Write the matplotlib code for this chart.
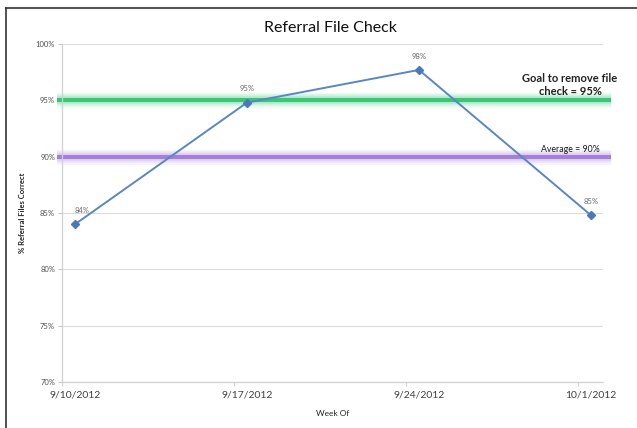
import matplotlib
matplotlib.use("Agg")
import matplotlib.pyplot as plt
from matplotlib.lines import Line2D

### Chart data ###
weeks = ["9/10/2012", "9/17/2012", "9/24/2012", "10/1/2012"]
pct_correct = [84.0, 94.8, 97.7, 84.8]
point_labels = ["84%", "95%", "98%", "85%"]
goal = 95
average = 90
y_ticks = [70, 75, 80, 85, 90, 95, 100]

plt.rcParams['font.family'] = ['Lato', 'DejaVu Sans']

fig = plt.figure(figsize=(6.37, 4.28), dpi=100)
ax = fig.add_axes([62/637, 1 - 382/428, 541/637, 338/428])

x = list(range(len(weeks)))

# glowing reference bands (goal and average)
def glow_band(y, core, glow):
    for lw, a in [(11, 0.1), (8.5, 0.15), (6, 0.25)]:
        ax.axhline(y, xmin=-0.01, xmax=1.015, color=glow, lw=lw, alpha=a,
                   clip_on=False, zorder=2, solid_capstyle="butt")
    ax.axhline(y, xmin=-0.01, xmax=1.015, color=core, lw=3,
               clip_on=False, zorder=2, solid_capstyle="butt")

glow_band(goal, "#3cc477", "#5fd595")
glow_band(average, "#a680d6", "#bb9be2")

ax.plot(x, pct_correct, color="#5b86c4", lw=1.4, marker="D", ms=4.5,
        mfc="#4a78b8", mec="#4a78b8", zorder=3)

for xi, yi, lab in zip(x, pct_correct, point_labels):
    dx = 0.04 if xi == 0 else 0
    ax.text(xi + dx, yi + 0.9, lab, ha="center", va="bottom", fontsize=5.5,
            color="#6a6a6a")

ax.set_ylim(70, 100)
ax.set_xlim(-0.0756, 3.07)
ax.set_yticks(y_ticks)
ax.set_yticklabels([f"{v}%" for v in y_ticks], fontsize=5.5, color="#505050")
ax.yaxis.grid(True, color="#dcdcdc", lw=0.8)
ax.set_axisbelow(True)

# tick marks sit a little left of the labels, like the Excel date axis
ax.set_xticks([xi - 0.0756 for xi in x], minor=True)
ax.set_xticks(x)
ax.set_xticklabels(weeks, fontsize=7.5, color="#404040")
ax.tick_params(axis="x", which="major", length=0, pad=6)
ax.tick_params(axis="x", which="minor", length=3, color="#c8c8c8")
ax.tick_params(axis="y", length=3, color="#c8c8c8", pad=2)

for s in ["top", "right"]:
    ax.spines[s].set_visible(False)
for s in ["left", "bottom"]:
    ax.spines[s].set_color("#d0d0d0")
    ax.spines[s].set_linewidth(0.9)

fig.text(330/637, 1 - 28/428, "Referral File Check", ha="center", va="center",
         fontsize=11.5, color="#111111")
ax.set_xlabel("Week Of", fontsize=6, color="#222222", labelpad=8)
ax.set_ylabel("% Referral Files Correct", fontsize=5.5, fontweight="bold",
              color="#222222", labelpad=7)

fig.text(570/637, 1 - 85/428, "Goal to remove file\ncheck = 95%", ha="center",
         va="center", fontsize=8, fontweight="bold", color="#222222",
         linespacing=1.15)
fig.text(570/637, 1 - 149/428, "Average = 90%", ha="center", va="center",
         fontsize=6.3, color="#1a1a1a")

# outer frame (top and left edges only, as in the screenshot)
fig.add_artist(Line2D([6/637, 1], [1 - 8/428, 1 - 8/428], color="#555555", lw=1.5))
fig.add_artist(Line2D([6/637, 6/637], [0, 1 - 8/428], color="#333333", lw=1.2))

fig.savefig("out.png", dpi=100)
